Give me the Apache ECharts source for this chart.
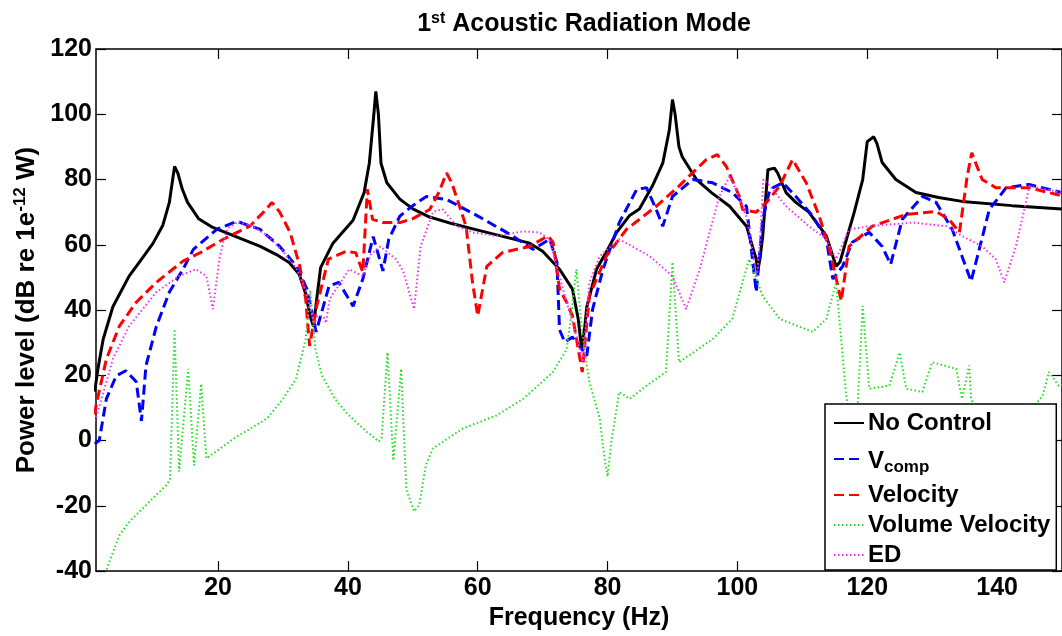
<!DOCTYPE html>
<html>
<head>
<meta charset="utf-8">
<script src="https://cdn.jsdelivr.net/npm/echarts@6/dist/echarts.min.js"></script>
<style>html,body{margin:0;padding:0;background:#fff}#c{width:1062px;height:636px}</style>
</head>
<body>
<div id="c"></div>
<script>
// Frequency (Hz) / Power level (dB re 1e-12 W)
var xTicks = [20, 40, 60, 80, 100, 120, 140];
var seriesNames = ['No Control', 'Vcomp', 'Velocity', 'Volume Velocity', 'ED'];

var noControl = [[1,15],[1.5,22],[2.3,31],[3.8,41],[6.3,50.4],[8,55],[10,60.5],[11.5,66],[12.5,73],[13.3,84],[13.8,82],[14.5,77],[15.3,73],[17,68],[19,65.5],[21.5,63.5],[24,61.5],[26.5,59.5],[29,57],[31,54.5],[32.5,51],[33.5,45],[34.2,38],[34.7,35],[35.3,45],[35.8,53],[37.7,60.5],[40.8,67.5],[42.5,76],[43.3,85],[44,100],[44.3,107],[44.7,100],[45.1,85],[46,79],[48,74],[50,71],[52.6,68.5],[56,66.5],[60,64.5],[64,62.5],[68,60.5],[70,58],[72.6,52.5],[74.6,46.4],[75.5,37],[76,28],[76.5,35],[76.8,41],[78.3,52.5],[80,58.5],[81.4,63.8],[83.4,69],[84.9,71],[86.9,78],[88.5,85],[89.5,95],[90,104.5],[90.4,100],[91,90],[91.5,87],[93.7,80],[96,76],[98.8,71.8],[101.4,65.7],[102.9,55.6],[103.1,51.6],[103.5,56],[103.9,62.7],[104.7,83],[105.7,83.5],[106.2,82],[107.5,76],[109,73],[111,70],[113.7,62.7],[115.2,53.4],[115.8,54.7],[116.8,61.7],[118,70],[119.3,80],[120,91.6],[121,93.1],[121.5,91],[122.3,85.2],[124.4,80],[127.5,76],[131,74.5],[134.6,73.3],[142.3,72],[150,71]];

var vComp = [[1,-1],[1.7,0],[2.8,12.8],[4.3,19.8],[5.8,21.4],[7.4,18],[8.2,6],[8.9,23],[10.5,35],[12.5,45.5],[14.6,52.5],[16.2,58.6],[19.8,64.7],[22.9,67.2],[26.5,64.7],[29.5,59.5],[32.1,53.4],[33.7,46.4],[35.1,33.3],[37.1,47.4],[38.6,48.5],[40.8,41.2],[42.3,49.5],[43.9,62.5],[45.4,52],[46.3,61.7],[48,68.8],[50,72],[52.1,74.8],[55.2,73.9],[60.3,68.5],[65.4,62.7],[68.5,58.6],[71.1,61.7],[72.2,54.7],[72.6,34],[73.4,30.2],[74.6,31.7],[76.8,26],[77.7,40.3],[79.3,52.5],[81.8,66.8],[84.5,77],[86,77.5],[87.5,70.8],[88.5,65.7],[90,74.8],[93.1,80],[96.2,79],[99.2,76],[101.4,71.8],[102.9,45.5],[103.9,67.8],[105,77],[107,79],[109,74.8],[111.6,68.8],[113.7,61.7],[114.7,49.5],[116.2,53.4],[117.7,60.8],[120.3,63.8],[122.3,59.5],[123.6,54],[125.4,67.8],[128.5,74.8],[130.6,73],[133.1,64.7],[136,48.8],[138.8,70.8],[141.4,77.5],[144.9,78.5],[150,76]];

var velocity = [[1,8],[1.2,10.7],[2.8,25],[4.8,35.1],[7.4,42.4],[10.5,48.5],[14.6,55],[17.2,57.5],[20.8,61.7],[24.9,65.7],[27,70],[28.3,73],[29.5,70],[31.1,63.8],[32.6,53.4],[33.5,43.4],[34.1,29],[35.2,41.2],[37,55.6],[39.7,58],[41.2,57.6],[42.3,51.6],[43,77],[43.8,67.8],[45.4,66.8],[48,66.8],[50,68],[52.6,70.8],[54,76],[55.2,82],[56,79],[57.2,71.8],[58.2,65.7],[59.2,48.5],[60,38.2],[61.4,53.4],[63.8,57.6],[68,59.5],[70.8,62.7],[71.6,60.8],[72.6,46.4],[73.7,42.4],[74.6,38.2],[76.1,21],[77.2,44.3],[79.8,56.5],[82.9,64.7],[87.5,71.8],[91,78],[95.2,86.1],[96.9,87.6],[98.3,84],[100.3,74.8],[100.8,70.8],[102.9,70],[104.5,73],[106.5,78],[108.5,86.1],[110.6,79],[112.6,68.8],[114.2,58.6],[116,42.8],[117.2,59.5],[120.8,65.7],[126,69.3],[130.6,70.2],[132.6,67.8],[134.2,63.8],[135.4,81],[136.1,88.2],[137.7,80],[139.8,77.5],[144.9,77.5],[150,75]];

var volumeVelocity = [[1,-55],[2.9,-39],[4.8,-29],[6.4,-24.7],[9.5,-18.6],[12,-13.7],[12.6,-12],[13.3,34.2],[14,-9.5],[15.4,22],[16.3,-7.6],[17.4,17.4],[18.2,-5.5],[22.4,0.6],[27.5,6.7],[30,12.8],[32,18.9],[33.5,31.1],[34.2,46],[35,28],[36,20],[38,12.8],[40,8],[42.9,2.7],[44.8,-0.3],[45.2,1],[46.1,27],[47,-6.1],[48.2,22],[49,-15],[50.2,-21.7],[51,-19.7],[52,-7.6],[53.1,-2.4],[57.7,3.7],[62.9,7.7],[67,12.8],[71.6,21],[73.7,28],[74.5,40],[75.2,52.5],[76,35],[76.8,23],[77.2,18],[78.8,6.7],[79.5,-5],[80,-11],[80.6,0],[81.8,14.9],[83.4,12.8],[86,16.8],[89,21],[90,54.7],[91,24],[96.2,31.1],[99.2,37.3],[101.8,55.6],[103.9,44.3],[106.5,37.3],[111.6,33.3],[113.7,37.3],[115.2,48.5],[116.7,14.9],[117.5,5],[118.5,10],[119.3,41.2],[120.3,15.9],[123.4,16.8],[125,27],[126,15.9],[128.5,14.9],[130,24],[133.7,22],[134.6,12.8],[135.7,23],[136,12.8],[137,8],[140,5],[143,8],[145.5,10],[147,13.7],[148,21],[149.5,16.8],[150,17]];

var ed = [[1,6],[1.5,9],[3.8,25],[6.3,35.1],[10.5,45.5],[14,50.4],[16.6,52.5],[18.2,50.4],[19.2,40.3],[20.2,55.6],[20.8,60.8],[21.5,65],[23,67],[25,66],[27.5,63],[30,58],[32,53],[33.5,46],[34.8,36],[35.3,38],[36.2,38.2],[36.6,36],[37.2,43.4],[40.2,52.5],[42.3,50.4],[43.5,57],[45,59.5],[47.4,55.6],[48.5,52],[50.2,40.3],[51.2,59.5],[53.1,70],[54.5,71],[56.8,65.7],[59.2,63.8],[62.9,62.7],[67,64.1],[69.5,63.8],[71,61.7],[73.7,42.4],[75.5,30],[76.2,24],[77.2,48.5],[78.8,56.5],[81.8,61.7],[86.5,56.5],[90,50.4],[92.1,40.3],[94.2,52.5],[97.2,74.8],[98.8,81],[100,76],[101.5,68],[103,50],[103.5,62],[104,80],[105,78],[107.5,71.8],[111,65.7],[113.7,61.7],[115.2,55.6],[117.2,64.7],[120.3,65.7],[127,66.8],[132.2,65.7],[134.6,62.7],[137.7,59.5],[139.8,55.6],[141.1,48.5],[142.9,59.5],[145,78],[150,76]];

var FONT = 'Liberation Sans, Arial, sans-serif';
var FS = 25;
var chart = echarts.init(document.getElementById('c'), null, {renderer: 'canvas'});

function lineSeries(name, data, color, width, dash) {
  return {
    name: name, type: 'line', data: data, symbol: 'none', showSymbol: false, smooth: false,
    animation: false, clip: true,
    lineStyle: {color: color, width: width, type: dash},
    itemStyle: {color: color}
  };
}

var axisLineStyle = {show: true, onZero: false, lineStyle: {color: '#000', width: 1.5}};
var tickStyle = {color: '#000', width: 1.2};

chart.setOption({
  animation: false,
  backgroundColor: '#fff',
  title: {
    text: '{n|1}{s|st}{n| Acoustic Radiation Mode}',
    left: 579, top: 2, textAlign: 'center',
    textStyle: {
      rich: {
        n: {fontFamily: FONT, fontSize: FS, fontWeight: 'bold', color: '#000', lineHeight: 30, verticalAlign: 'bottom'},
        s: {fontFamily: FONT, fontSize: 16, fontWeight: 'bold', color: '#000', lineHeight: 30, padding: [0, 0, 10, 0], verticalAlign: 'bottom'}
      }
    }
  },
  grid: {left: 96, top: 49, right: -1, bottom: 63, containLabel: false},
  legend: {
    orient: 'vertical', left: 825, top: 404,
    backgroundColor: '#fff', borderColor: '#000', borderWidth: 1.5,
    padding: [7, 6, 3, 8], itemGap: 6, itemWidth: 30, itemHeight: 12,
    itemStyle: {opacity: 0},
    data: seriesNames,
    formatter: function (name) {
      if (name === 'Vcomp') return '{v|V}{c|comp}';
      return '{t|' + name + '}';
    },
    textStyle: {
      color: '#000', fontFamily: FONT, fontSize: 24, fontWeight: 'bold', padding: [0, 0, 0, -1],
      rich: {
        t: {fontFamily: FONT, fontSize: 24, fontWeight: 'bold', color: '#000', lineHeight: 24},
        v: {fontFamily: FONT, fontSize: 24, fontWeight: 'bold', color: '#000', lineHeight: 24, padding: [8, 0, 4, 0]},
        c: {fontFamily: FONT, fontSize: 17, fontWeight: 'bold', color: '#000', lineHeight: 17, padding: [18, 0, 1, 0]}
      }
    }
  },
  xAxis: [
    {
      type: 'value', min: 1.2, max: 150, position: 'bottom',
      name: 'Frequency (Hz)', nameLocation: 'middle', nameGap: 32,
      nameTextStyle: {fontFamily: FONT, fontSize: FS, fontWeight: 'bold', color: '#000'},
      axisLine: axisLineStyle, splitLine: {show: false},
      axisTick: {show: true, inside: true, length: 10, lineStyle: tickStyle, customValues: xTicks},
      axisLabel: {show: true, margin: 5, fontFamily: FONT, fontSize: FS, fontWeight: 'bold', color: '#000', customValues: xTicks}
    },
    {
      type: 'value', min: 1.2, max: 150, position: 'top',
      axisLine: axisLineStyle, splitLine: {show: false},
      axisTick: {show: true, inside: true, length: 10, lineStyle: tickStyle, customValues: xTicks},
      axisLabel: {show: false}
    }
  ],
  yAxis: [
    {
      type: 'value', min: -40, max: 120, interval: 20, position: 'left',
      name: '{a|Power level (dB re 1e}{b|-12}{a| W)}', nameLocation: 'middle', nameGap: 50, nameRotate: 90,
      nameTextStyle: {
        rich: {
          a: {fontFamily: FONT, fontSize: 26, fontWeight: 'bold', color: '#000', lineHeight: 30, verticalAlign: 'bottom'},
          b: {fontFamily: FONT, fontSize: 17, fontWeight: 'bold', color: '#000', lineHeight: 30, padding: [0, 0, 11, 0], verticalAlign: 'bottom'}
        }
      },
      axisLine: axisLineStyle, splitLine: {show: false},
      axisTick: {show: true, inside: true, length: 10, lineStyle: tickStyle},
      axisLabel: {show: true, margin: 4, fontFamily: FONT, fontSize: FS, fontWeight: 'bold', color: '#000'}
    },
    {
      type: 'value', min: -40, max: 120, interval: 20, position: 'right',
      axisLine: axisLineStyle, splitLine: {show: false},
      axisTick: {show: true, inside: true, length: 10, lineStyle: tickStyle},
      axisLabel: {show: false}
    }
  ],
  series: [
    lineSeries('No Control', noControl, '#000000', 3, 'solid'),
    lineSeries('Vcomp', vComp, '#0000ff', 3, [10, 5]),
    lineSeries('Velocity', velocity, '#ff0000', 3, [10, 5]),
    lineSeries('Volume Velocity', volumeVelocity, '#22dd22', 2, [1.5, 2.5]),
    lineSeries('ED', ed, '#ee33ee', 2, [1.5, 2.5])
  ]
});
</script>
</body>
</html>
